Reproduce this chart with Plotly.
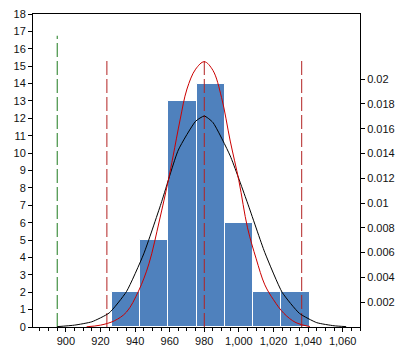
import plotly.graph_objects as go

# Histogram bins (left axis, counts)
bin_start = 926.5
bin_width = 16.35
counts = [2, 5, 13, 14, 6, 2, 2]

# Black density curve (right axis)
black_x = [895, 905, 915, 925, 935, 945, 955, 965, 975, 980, 985, 995, 1005, 1015, 1025, 1035, 1045, 1055, 1062]
black_y = [0.00003, 0.00015, 0.00042, 0.00113, 0.00285, 0.00590, 0.00995, 0.01428, 0.01660, 0.01702,
           0.01650, 0.01380, 0.01000, 0.00600, 0.00280, 0.00110, 0.00035, 0.00010, 0.00003]

# Red density curve (right axis)
red_x = [912, 920, 928, 935, 942, 948, 954, 959, 962, 966, 970, 975, 980, 985, 990, 995,
         1000, 1005, 1010, 1015, 1020, 1026, 1033, 1041]
red_y = [0.00002, 0.00015, 0.00050, 0.00120, 0.00290, 0.00510, 0.00855, 0.01170, 0.01380,
         0.01670, 0.01920, 0.02080, 0.02140, 0.02070, 0.01850, 0.01500, 0.01180, 0.00800,
         0.00550, 0.00340, 0.00220, 0.00110, 0.00035, 0.00003]

# Reference lines
green_line_x = 895
green_line_top = 16.75
red_lines_x = [923.7, 980.0, 1036.3]
red_lines_top = 15.35

x_ticks = [900, 920, 940, 960, 980, 1000, 1020, 1040, 1060]
left_ticks = list(range(0, 19))
right_ticks = [0.002, 0.004, 0.006, 0.008, 0.01, 0.012, 0.014, 0.016, 0.018, 0.02]
right_labels = ["0.002", "0.004", "0.006", "0.008", "0.01", "0.012", "0.014", "0.016", "0.018", "0.02"]

centers = [bin_start + bin_width * (i + 0.5) for i in range(len(counts))]

fig = go.Figure()
fig.add_trace(go.Bar(x=centers, y=counts, width=[bin_width] * len(counts),
                     marker=dict(color="#4F81BD", line=dict(color="white", width=1)),
                     yaxis="y", showlegend=False, hoverinfo="skip"))

fig.add_trace(go.Scatter(x=[green_line_x, green_line_x], y=[0, green_line_top], mode="lines",
                         line=dict(color="#1E7B1E", width=1, dash="14px,4px"),
                         yaxis="y", showlegend=False))
for rx in red_lines_x:
    fig.add_trace(go.Scatter(x=[rx, rx], y=[0, red_lines_top], mode="lines",
                             line=dict(color="#B22222", width=1, dash="14px,4px"),
                             yaxis="y", showlegend=False))

fig.add_trace(go.Scatter(x=black_x, y=black_y, mode="lines", line_shape="spline",
                         line=dict(color="black", width=1, smoothing=0.5),
                         yaxis="y2", showlegend=False))
fig.add_trace(go.Scatter(x=red_x, y=red_y, mode="lines", line_shape="spline",
                         line=dict(color="#CC0000", width=1),
                         yaxis="y2", showlegend=False))

font = dict(family="Arial, Liberation Sans, sans-serif", size=11, color="#111111")

# The page body has an 8px default margin, so the figure is sized/offset to suit.
fig.update_layout(
    width=400, height=353,
    margin=dict(l=25, r=48, t=6, b=34, autoexpand=False),
    paper_bgcolor="white", plot_bgcolor="white",
    font=font,
    bargap=0,
    xaxis=dict(range=[881, 1070], tickvals=x_ticks, tickformat=",d", automargin=False,
               showline=True, linecolor="black", linewidth=1, mirror=True,
               ticks="outside", ticklen=4, tickcolor="black",
               minor=dict(dtick=5, tick0=900, ticks="outside", ticklen=3, tickcolor="black"),
               showgrid=False, zeroline=False),
    yaxis=dict(range=[0, 18], tickvals=left_ticks, automargin=False,
               ticklabeloverflow="allow",
               showline=True, linecolor="black", linewidth=1,
               ticks="outside", ticklen=4, tickcolor="black",
               showgrid=False, zeroline=False),
    yaxis2=dict(range=[0, 0.02525], overlaying="y", side="right", automargin=False,
                tickvals=right_ticks, ticktext=right_labels,
                showline=True, linecolor="black", linewidth=1,
                ticks="outside", ticklen=4, tickcolor="black",
                showgrid=False, zeroline=False),
)

fig.write_html("out.html")
